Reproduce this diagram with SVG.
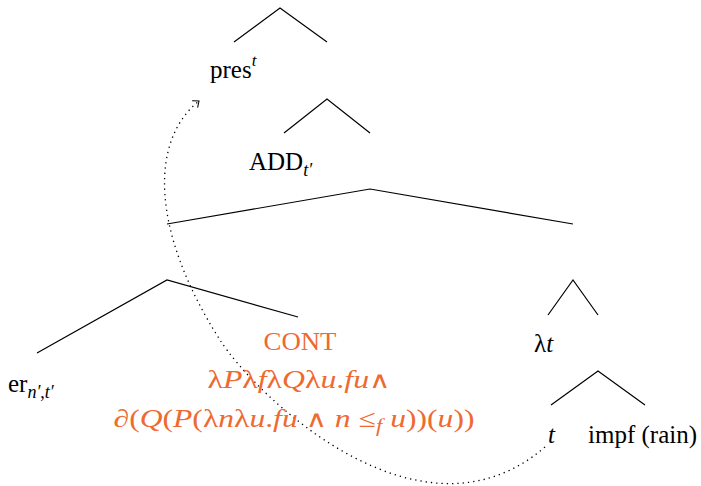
<svg xmlns="http://www.w3.org/2000/svg" width="701" height="486" viewBox="0 0 701 486">
<style>
.e{fill:none;stroke:#000;stroke-width:1.2}
text{font-family:'Liberation Serif','DejaVu Serif','Times New Roman',serif;font-size:25px;fill:#000}
.i{font-style:italic}
.o{fill:#EE6A30}
.w{font-family:'DejaVu Serif',serif;font-size:23px}
.dot{fill:none;stroke:#000;stroke-width:1.3;stroke-dasharray:1.3 4}
</style>
<defs>
<marker id="ah" markerWidth="14" markerHeight="14" refX="0" refY="0" viewBox="-8 -8 16 16" orient="auto" markerUnits="userSpaceOnUse">
<path d="M-6,-5 L0,0 L-6,5" fill="none" stroke="#000" stroke-width="1.2"/>
</marker>
</defs>
<g id="edges">
<polyline class="e" points="234,42 280,8 327,42"/>
<polyline class="e" points="284,133 327,99 370,133"/>
<polyline class="e" points="167,224 370,189 573,224"/>
<polyline class="e" points="37,353 167,280 298,317"/>
<polyline class="e" points="548,315 573,280 598,315"/>
<polyline class="e" points="551,405 598,371 645,405"/>
<path class="dot" d="M545,447 C420,555 255,395 220,340 C150,230 150,140 199,101" marker-end="url(#ah)"/>
</g>
<g id="pres"><text x="210" y="78">pres<tspan class="i" font-size="17" dy="-12">t</tspan></text></g>
<g id="add"><text x="249" y="170">ADD<tspan class="i" font-size="18" dy="6">t′</tspan></text></g>
<g id="er"><text x="8" y="392" font-size="26">er<tspan class="i" font-size="18" dy="6">n′</tspan><tspan font-size="18">,</tspan><tspan class="i" font-size="18">t′</tspan></text></g>
<g id="cont">
<text class="o" x="300" y="350" text-anchor="middle" font-size="25" textLength="73" lengthAdjust="spacingAndGlyphs">CONT</text>
<text class="o" x="299" y="388" text-anchor="middle" font-size="30" textLength="183" lengthAdjust="spacingAndGlyphs">λ<tspan class="i">P</tspan>λ<tspan class="i">f</tspan>λ<tspan class="i">Q</tspan>λ<tspan class="i">u</tspan>.<tspan class="i">fu</tspan><tspan class="w">∧</tspan></text>
<text class="o" x="294" y="427" text-anchor="middle" font-size="30" textLength="361" lengthAdjust="spacingAndGlyphs">∂(<tspan class="i">Q</tspan>(<tspan class="i">P</tspan>(λ<tspan class="i">n</tspan>λ<tspan class="i">u</tspan>.<tspan class="i">fu</tspan> <tspan class="w">∧</tspan> <tspan class="i">n</tspan> ≤<tspan class="i" font-size="18" dy="5">f</tspan><tspan dy="-5"> </tspan><tspan class="i">u</tspan>))(<tspan class="i">u</tspan>))</text>
</g>
<g id="lambda"><text x="534" y="352" font-size="30">λ<tspan class="i">t</tspan></text></g>
<g id="tvar"><text class="i" x="548" y="443">t</text></g>
<g id="impf"><text x="588" y="443" textLength="109" lengthAdjust="spacingAndGlyphs">impf (rain)</text></g>
</svg>
